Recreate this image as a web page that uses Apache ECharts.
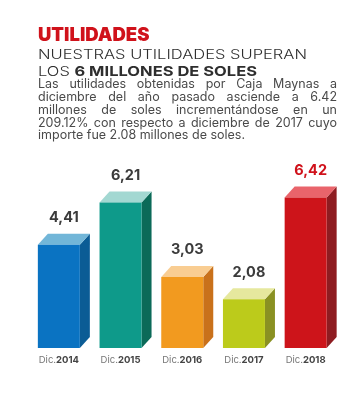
<!DOCTYPE html>
<html><head><meta charset="utf-8">
<script src="https://cdn.jsdelivr.net/npm/echarts@6/dist/echarts.min.js"></script>
<style>html,body{margin:0;padding:0;background:#fff}#c{width:360px;height:399px}</style>
</head><body><div id="c"></div>
<script>
const categories = ['Dic.2014','Dic.2015','Dic.2016','Dic.2017','Dic.2018'];
const values = [4.41, 6.21, 3.03, 2.08, 6.42];
const titleText = 'UTILIDADES';
const subtitle1 = 'NUESTRAS UTILIDADES SUPERAN';
const subtitle2a = 'LOS ';
const subtitle2b = '6 MILLONES DE SOLES';
const paragraph = [
  'Las utilidades obtenidas por Caja Maynas a',
  'diciembre del año pasado asciende a 6.42',
  'millones de soles incrementándose en un',
  '209.12% con respecto a diciembre de 2017 cuyo',
  'importe fue 2.08 millones de soles.'
];

const palette = [
  {front:'#0a73c2', side:'#0b5c95', top:'#72b6d8'},
  {front:'#0e9a8a', side:'#0b6a58', top:'#a3d8d2'},
  {front:'#f29a1f', side:'#c9711b', top:'#f9cd92'},
  {front:'#bccb1b', side:'#8a9122', top:'#e6e89e'},
  {front:'#cd141a', side:'#8e1c21', top:'#e9646b'}
];
const labelColors = ['#3b3b3b','#3b3b3b','#3b3b3b','#3b3b3b','#d0121b'];

const FF = 'Inter, "Open Sans", sans-serif';
const canvas = document.createElement('canvas');
const ctx = canvas.getContext('2d');
function measure(t, font){ ctx.font = font; return ctx.measureText(t).width; }

const graphics = [];
graphics.push({type:'text', x:38, y:35, style:{text:titleText, font:'900 18.5px '+FF, fill:'#d0121b', verticalAlign:'middle'}});
// subtitle line 1, stretched to the reference width
const fA = '300 13.5px '+FF;
const fB = '700 13.5px '+FF;
const w1 = measure(subtitle1, fA);
const s1 = 269/w1;
graphics.push({type:'text', x:38, y:55, scaleX:s1, style:{text:subtitle1, font:fA, fill:'#2e2e2e', verticalAlign:'middle'}});
const wa = measure(subtitle2a, fA), wb = measure(subtitle2b, fB);
const s2 = 219/(wa+wb);
graphics.push({type:'text', x:38, y:72, scaleX:s2, style:{text:subtitle2a, font:fA, fill:'#2e2e2e', verticalAlign:'middle'}});
graphics.push({type:'text', x:38+wa*s2, y:72, scaleX:s2, style:{text:subtitle2b, font:fB, fill:'#2e2e2e', verticalAlign:'middle'}});

// justified paragraph
let pfs = 12;
const pw4 = measure(paragraph[3], '400 '+pfs+'px '+FF);
pfs = Math.min(12.5, pfs*295/pw4);
const pf = '400 '+pfs+'px '+FF;
const PX = 38, PW = 299;
paragraph.forEach((line, li) => {
  const y = 84.5 + li*12.8;
  if (li === paragraph.length-1) {
    graphics.push({type:'text', x:PX, y:y, style:{text:line, font:pf, fill:'#4a4a4a', verticalAlign:'middle'}});
    return;
  }
  const words = line.split(' ');
  const total = words.reduce((s,w)=>s+measure(w,pf),0);
  const gap = (PW-total)/(words.length-1);
  let x = PX;
  words.forEach(w => {
    graphics.push({type:'text', x:x, y:y, style:{text:w, font:pf, fill:'#4a4a4a', verticalAlign:'middle'}});
    x += measure(w,pf)+gap;
  });
});

const chart = echarts.init(document.getElementById('c'), null, {renderer:'canvas'});
const HALF = 21, DX = 10, DY = 11;
chart.setOption({
  backgroundColor:'#fff',
  animation:false,
  graphic: graphics,
  grid:{left:28, right:23.5, top:184, bottom:51},
  xAxis:{type:'category', data:categories, axisLine:{show:false}, axisTick:{show:false},
    axisLabel:{interval:0, margin:7, formatter:v=>{const p=v.split('.');return '{a|'+p[0]+'.}{b|'+p[1]+'}';},
      rich:{a:{fontFamily:FF, fontSize:9.5, color:'#777', fontWeight:400}, b:{fontFamily:FF, fontSize:9.5, color:'#444', fontWeight:700}}}},
  yAxis:{type:'value', min:0, max:7, show:false, splitLine:{show:false}},
  series:[{
    type:'custom',
    data: values.map((v,i)=>[i,v]),
    encode:{x:0,y:1},
    renderItem:(params, api)=>{
      const i = api.value(0), v = api.value(1);
      const t = api.coord([i, v]);
      const b = api.coord([i, 0]);
      const cx = t[0], ty = t[1], by = b[1];
      const c = palette[i];
      return {type:'group', children:[
        {type:'polygon', shape:{points:[[cx+HALF,ty],[cx+HALF+DX,ty-DY],[cx+HALF+DX,by-DY],[cx+HALF,by]]}, style:{fill:c.side}},
        {type:'polygon', shape:{points:[[cx-HALF,ty],[cx+HALF,ty],[cx+HALF+DX,ty-DY],[cx-HALF+DX,ty-DY]]}, style:{fill:c.top}},
        {type:'rect', shape:{x:cx-HALF, y:ty, width:HALF*2, height:by-ty}, style:{fill:c.front}},
        {type:'text', x:cx+5, y:ty-DY-16, style:{text:v.toFixed(2).replace('.',','), font:'700 14.5px '+FF, fill:labelColors[i], align:'center', verticalAlign:'middle'}}
      ]};
    }
  }]
});
</script>
</body></html>
